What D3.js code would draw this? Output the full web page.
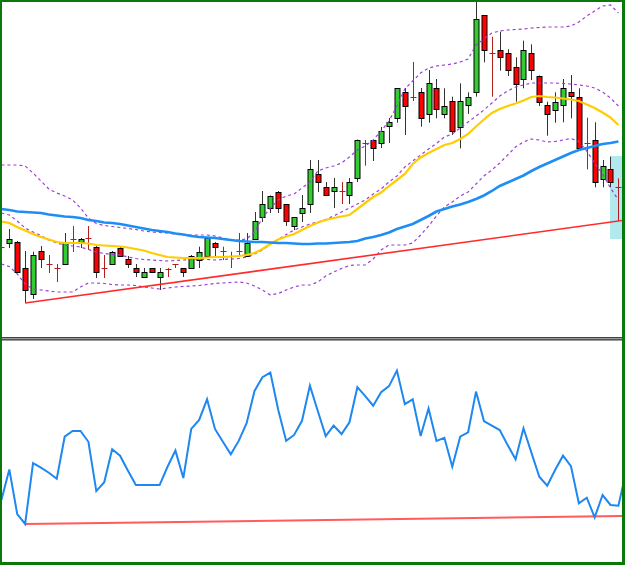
<!DOCTYPE html>
<html>
<head>
<meta charset="utf-8">
<script src="https://cdn.jsdelivr.net/npm/d3@7"></script>
<style>
    html, body { margin: 0; padding: 0; background: #fff; }
    svg { display: block; }
</style>
</head>
<body>
<svg id="chart"></svg>
<script>

// candles, one per bar (price units)
const open = [103,107,108,82,56,99,86,82,86,111,
    108,112,103,82,86,102,91,82,73,81.7,
    73,81.5,85.7,81.7,82,90,94,107.5,99,94,
    99,94,111,133,142,158.3,145.7,124,137,146,
    176,163.3,159,159,155,172,206.7,210,207,223.3,
    232,257.7,253.3,257.7,236,261.7,236,249,223.3,245,
    257.7,334.7,296.7,300,296.7,283.5,270.7,296.7,274.3,245,
    240.7,244.3,257.7,253.3,206.7,210,171.7,180.7,162.7]
const high = [106,121,109,99,98.3,104,95,86,117,124,
    112,124,104,95,99,103.5,94,86,82,82,
    82,82,86,82,95,103.3,112.5,108,103.3,98.3,
    117,117,138,159,154.5,159,146,133,155,190,
    190,168,172,168,172,210.5,210,210.5,223,232,
    262,262,288,262,280,271,261.7,253.3,266.7,257.7,
    348.3,335,313.3,318.3,300.7,292.7,309.3,305.7,274.5,248.3,
    257.7,271,275,261.7,232.3,227.7,190,193.3,171.7]
const low = [100,102,77,47,51,82,77,68,85,98,
    102,100,72,72,85,94,82,73,72.5,77.5,
    60,73,82,73,81,82,93.5,94,90,82,
    94,93.5,110.5,128,137,137,124,120,128,137,
    158,154.5,142,146,146,168,184.3,189,202,207,
    227.3,215,249,223.3,227.3,231.7,231.7,215,201.7,236,
    253.3,287.7,253.3,279.3,274,248.3,261.7,270,244,214.3,
    227.3,227.7,231.7,202,180.7,162.7,162.7,162.7,129]
const close = [103,111,78,60,95,91,86,82,107,111,
    111.5,112,78,82,98,94.5,86,78,78,77.7,
    78,81.5,85.7,77.7,94.3,98,111.7,103.3,99,94,
    99,107.3,129,146,154,142,129,132.7,142,181,
    168,155,163.3,159,167.7,210,206.7,202.3,219,227.7,
    261.7,244,253.3,231.7,266.7,240.7,244.3,219,249,253.3,
    330.7,300,296.7,292.7,279.3,266.7,300,279.3,248.3,235.7,
    248.3,261.7,253.3,202.7,206.7,167.7,184.3,167.7,162.7]

// moving averages
const maSlow = [141,140,138.5,138,137.5,137,135.5,134.5,133.5,133,
    132,130,129,127.5,127,126,124.5,123,121.5,120,
    119,118,116.5,115.5,114,113,112.5,112,111,110,
    109,108.5,108,108,107.5,107,107,106.5,106,106,
    106.5,106.5,107,107.5,108,109,111.5,113,115,117.5,
    121,123.5,126,130,134,138.5,141,143.5,145.5,148,
    151,154.5,159,164,167.5,171,174.5,179,183,186.5,
    190,193.5,197,200,202,204,206,207,208.5]
const maFast = [128.5,127,123,119.5,116,113,110.5,108,107,107,
    107,106.5,105,104.5,104,103.5,102.5,101,99.5,97,
    95,93,92.5,92,92,92,92.5,93,93,93.5,
    94,95,97,101,106,110.5,113.5,116,120,124,
    127.5,130,132,133.5,135,141,147,153,157.5,164,
    170,176,186,192.5,197,201,205,207,211,216,
    223.5,230.5,237,241,244,246.5,249.5,253,254,253,
    252.5,251.5,250.5,249,245.5,242,237.5,232.5,225]

// bollinger bands
const bandUpper = [185,185,185,184,177,169,161,157,154,150,
    142,132,126.5,124.5,123.5,122.5,121.5,120.5,119,118,
    117.5,117,116,115,115,115,115,114,112,110,
    110,111,118,132,142,150,154,156,162,168,
    179,182,184,187,193,200,204,210,219,229,
    244,261,269,277,282,284,285,286,288,291,
    305,311,317,319,320,320.5,321,322,322.5,323,
    323,323,324,328,334,339,344,345,337]
const bandMid = [137,135,129,122,118,114.5,110,107,105,104,
    103,100.5,98,96.5,95.5,95,93,91.5,90.5,90,
    89.5,89,89.5,90,90.5,91,90.5,90,90.5,91,
    91.5,93,96,100,106,110.5,115.5,120,123,126,
    128,130.5,134,138,142,146,150,156,161,168,
    174,183,189,195,201,206.5,213,216,222,228,
    234,240,247,254,259,263,265,267,267,267,
    267,266.5,266,265,264,262,258,252,244]
const bandLower = [86,83.5,76,66,61,60,59,58,58,58,
    63,67,67,66.5,65.5,65,65,64.5,63,62,
    61,62,63,63.5,64,64.5,65.5,66.5,67,67.5,
    68,67,64,60,55,56.5,60,63,65,65,
    68,74,78,81.5,84.5,85,85,91,100,105,
    105,105,107,115,124,134,143,148,154,158,
    166,174,180,187,195,203,208,211,210,208,
    208.5,210,211.5,208.5,199,187,176,162,150]

// oscillator (lower window), last value is the bar past the edge
const osc = [28.1,41.9,21.7,17.2,44.7,42.7,40.4,37.7,56.7,59.3,
    59.3,54.4,32.1,36.1,51.0,48.1,41.3,34.8,34.8,34.8,
    34.8,43.1,50.4,38.0,60.2,64.3,73.6,60.2,54.4,48.7,
    54.8,62.8,77.4,83.6,85.7,68.8,54.8,57.5,63.9,79.8,
    68.3,57.0,61.7,57.9,63.2,79.1,75.1,70.7,76.8,79.6,
    86.6,71.4,73.6,57.0,69.5,54.8,56.2,43.1,56.7,58.7,
    77.1,63.8,61.7,59.7,52.9,46.5,60.5,49.5,38.6,34.5,
    41.6,48.1,43.4,26.6,29.1,20.2,30.3,25.8,25.5,41.2]

// trend lines: [bar index, value]
const priceTrend = [[3, 47], [78, 129]]
const oscTrend = [[3, 17.2], [78, 20.8]]

// highlighted zone on the last bar
const zoneBars = [77, 79]
const zonePrices = [111, 194]


const width = 625
const height = 565
const priceTop = 0, priceBottom = 337
const oscTop = 341, oscBottom = 562

const svg = d3.select('#chart')
    .attr('width', width)
    .attr('height', height)

svg.append('rect')
    .attr('width', width)
    .attr('height', height)
    .attr('fill', '#fff')

const x = d3.scaleLinear()
    .domain([0, 78])
    .range([1.4, 618.4])

const y = d3.scaleLinear()
    .domain([13, 350])
    .range([priceBottom, priceTop])

const yOsc = d3.scaleLinear()
    .domain([0, 100])
    .range([oscBottom, oscTop])

const defs = svg.append('defs')
defs.append('clipPath').attr('id', 'clipTop')
    .append('rect').attr('x', 0).attr('y', priceTop).attr('width', 622).attr('height', priceBottom - priceTop)
defs.append('clipPath').attr('id', 'clipBottom')
    .append('rect').attr('x', 0).attr('y', oscTop).attr('width', 622).attr('height', oscBottom - oscTop)

const pricePane = svg.append('g').attr('clip-path', 'url(#clipTop)')
const oscPane = svg.append('g').attr('clip-path', 'url(#clipBottom)')

// highlight zone
pricePane.append('rect')
    .attr('x', x(zoneBars[0]) - 0.5)
    .attr('y', y(zonePrices[1]))
    .attr('width', x(zoneBars[1]) - x(zoneBars[0]))
    .attr('height', y(zonePrices[0]) - y(zonePrices[1]))
    .attr('fill', '#b2e9ee')

// CANDLES
const candles = d3.range(open.length).map(i => ({
    i: i, o: open[i], h: high[i], l: low[i], c: close[i]
}))

const bars = pricePane.selectAll('.candle')
    .data(candles)
    .enter()
    .append('g')
    .attr('class', 'candle')
    .attr('transform', d => 'translate(' + (Math.round(x(d.i)) + 0.5) + ',0)')

bars.append('line')
    .attr('y1', d => y(d.h))
    .attr('y2', d => y(d.l))
    .attr('stroke', d => d.o === d.c ? '#b01e1e' : '#333')
    .attr('stroke-width', 1)

bars.filter(d => d.o !== d.c)
    .append('rect')
    .attr('x', -2.5)
    .attr('width', 5)
    .attr('y', d => Math.round(y(Math.max(d.o, d.c))) + 0.5)
    .attr('height', d => Math.max(1, Math.round(Math.abs(y(d.o) - y(d.c)))))
    .attr('fill', d => d.c > d.o ? '#33cc33' : '#ff0000')
    .attr('stroke', '#000')
    .attr('stroke-width', 1)

bars.filter(d => d.o === d.c)
    .append('line')
    .attr('x1', -3)
    .attr('x2', 3)
    .attr('y1', d => Math.round(y(d.o)) + 0.5)
    .attr('y2', d => Math.round(y(d.o)) + 0.5)
    .attr('stroke', '#b01e1e')
    .attr('stroke-width', 1)

// INDICATOR LINES
const line = d3.line()
    .x((d, i) => x(i))
    .y(d => y(d))

const bands = [bandUpper, bandMid, bandLower]
pricePane.selectAll('.band')
    .data(bands)
    .enter()
    .append('path')
    .attr('class', 'band')
    .attr('d', line)
    .attr('fill', 'none')
    .attr('stroke', '#9a3fd8')
    .attr('stroke-width', 1.2)
    .attr('stroke-dasharray', '3,3')

pricePane.append('path')
    .attr('d', line(maFast))
    .attr('fill', 'none')
    .attr('stroke', '#ffcc00')
    .attr('stroke-width', 2.2)

pricePane.append('path')
    .attr('d', line(maSlow))
    .attr('fill', 'none')
    .attr('stroke', '#1e8ef5')
    .attr('stroke-width', 2.6)

// trend line, carried on to the right edge
const extend = (pts, toIndex) => {
    const slope = (pts[1][1] - pts[0][1]) / (pts[1][0] - pts[0][0])
    return [pts[0], [toIndex, pts[1][1] + slope * (toIndex - pts[1][0])]]
}

pricePane.append('path')
    .attr('d', d3.line().x(d => x(d[0])).y(d => y(d[1]))(extend(priceTrend, 79)))
    .attr('fill', 'none')
    .attr('stroke', '#ff2a2a')
    .attr('stroke-width', 1.6)

// LOWER WINDOW
oscPane.append('path')
    .attr('d', d3.line().x(d => x(d[0])).y(d => yOsc(d[1]))(extend(oscTrend, 79)))
    .attr('fill', 'none')
    .attr('stroke', '#ff5c5c')
    .attr('stroke-width', 2)

oscPane.append('path')
    .attr('d', d3.line().x((d, i) => x(i)).y(d => yOsc(d))(osc))
    .attr('fill', 'none')
    .attr('stroke', '#1e88f0')
    .attr('stroke-width', 2)

// separator between windows
svg.append('rect')
    .attr('x', 0).attr('y', 337)
    .attr('width', width).attr('height', 4)
    .attr('fill', '#9a9a9a')
svg.append('line')
    .attr('x1', 0).attr('x2', width)
    .attr('y1', 337.5).attr('y2', 337.5)
    .attr('stroke', '#444')
svg.append('line')
    .attr('x1', 0).attr('x2', width)
    .attr('y1', 339.5).attr('y2', 339.5)
    .attr('stroke', '#555')

// frame
const frame = '#0b780b'
svg.append('rect').attr('x', 0).attr('y', 0).attr('width', width).attr('height', 2).attr('fill', frame)
svg.append('rect').attr('x', 0).attr('y', 562).attr('width', width).attr('height', 3).attr('fill', frame)
svg.append('rect').attr('x', 0).attr('y', 0).attr('width', 2).attr('height', height).attr('fill', frame)
svg.append('rect').attr('x', 622).attr('y', 0).attr('width', 3).attr('height', height).attr('fill', frame)

</script>
</body>
</html>
